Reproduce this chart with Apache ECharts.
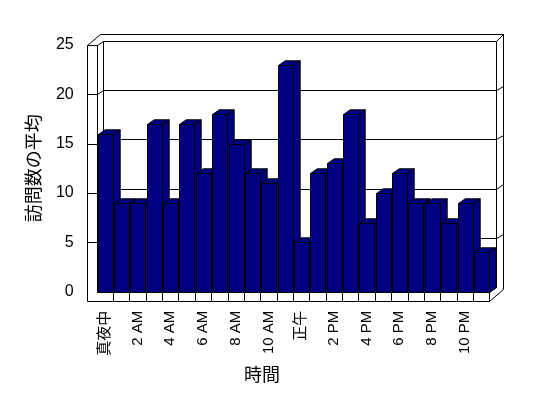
<!DOCTYPE html>
<html>
<head>
<meta charset="utf-8">
<script src="https://cdn.jsdelivr.net/npm/echarts@6/dist/echarts.min.js"></script>
<style>
  html, body { margin: 0; padding: 0; background: #fff; }
  #chart { width: 548px; height: 398px; }
</style>
</head>
<body>
<div id="chart"></div>
<script>
// 時間帯ごとの平均訪問数
const categories = [
  '真夜中', '1 AM', '2 AM', '3 AM', '4 AM', '5 AM', '6 AM', '7 AM', '8 AM', '9 AM', '10 AM', '11 AM',
  '正午', '1 PM', '2 PM', '3 PM', '4 PM', '5 PM', '6 PM', '7 PM', '8 PM', '9 PM', '10 PM', '11 PM'
]
const visits = [16, 9, 9, 17, 9, 17, 12, 18, 15, 12, 11, 23, 5, 12, 13, 18, 7, 10, 12, 9, 9, 7, 9, 4]
const yTicks = [5, 10, 15, 20]

const WALL = 10 // 左壁の厚み
const FLOOR = 9 // 床の厚み
const DEPTH = [6.6, -4.3] // 奥行き
const BACK = [7, -7] // 奥の壁の厚み
const BAR_DEPTH = [6.7, -4.7]
const BAR_COLOR = '#000080'

const px = v => Math.round(v) + 0.5

function line(x1, y1, x2, y2) {
  return {
    type: 'line',
    shape: { x1: px(x1), y1: px(y1), x2: px(x2), y2: px(y2) },
    style: { stroke: '#000', lineWidth: 1 }
  }
}

// 壁・床・目盛線
function renderFrame(params, api) {
  const cs = params.coordSys
  const L = cs.x
  const R = cs.x + cs.width
  const T = cs.y
  const B = cs.y + cs.height
  const dx = DEPTH[0]
  const dy = DEPTH[1]
  const ex = BACK[0]
  const ey = BACK[1]
  const c = []
  // 左壁 正面
  c.push(line(L - WALL, T, L - WALL, B + FLOOR))
  c.push(line(L - WALL, T, L, T))
  c.push(line(L, T, L, B))
  // 上端
  c.push(line(L - WALL, T, L - WALL + dx + ex, T + dy + ey))
  c.push(line(L - WALL + dx + ex, T + dy + ey, R + dx + ex, T + dy + ey))
  c.push(line(L, T, L + dx, T + dy))
  c.push(line(L + dx, T + dy, R + dx, T + dy))
  c.push(line(L + dx, T + dy, L + dx, B + dy))
  // 右端
  c.push(line(R + dx, T + dy, R + dx + ex, T + dy + ey))
  c.push(line(R + dx, T + dy, R + dx, B + dy))
  c.push(line(R + dx + ex, T + dy + ey, R + dx + ex, B + FLOOR + dy + ey))
  // 床
  c.push(line(L + dx, B + dy, R + dx, B + dy))
  c.push(line(L, B, R, B))
  c.push(line(L - WALL, B + FLOOR, R, B + FLOOR))
  c.push(line(R, B, R, B + FLOOR))
  c.push(line(R, B, R + dx, B + dy))
  c.push(line(R, B + FLOOR, R + dx + ex, B + FLOOR + dy + ey))
  // 目盛線
  yTicks.forEach(t => {
    const y = api.coord([0, t])[1]
    c.push(line(L - WALL, y, L, y))
    c.push(line(L, y, L + dx, y + dy))
    c.push(line(L + dx, y + dy, R + dx, y + dy))
    c.push(line(R + dx, y + dy, R + dx + ex, y + dy - 4.5))
  })
  // 床の区切り
  const bw = api.size([1, 0])[0]
  for (let k = 1; k < categories.length; k++) {
    c.push(line(L + k * bw, B, L + k * bw, B + FLOOR))
  }
  return { type: 'group', children: c }
}

// 3D 風の棒
function renderBar(params, api) {
  const top = api.coord([api.value(0), api.value(1)])
  const base = api.coord([api.value(0), 0])
  const bw = api.size([1, 0])[0]
  const xl = Math.round(top[0] - bw * 0.44) + 0.5
  const xr = Math.round(xl + bw * 0.86) + 0.5
  const yt = Math.round(top[1]) + 0.5
  const yb = Math.round(base[1]) + 0.5
  const [bx, by] = BAR_DEPTH
  const style = { fill: BAR_COLOR, stroke: '#000', lineWidth: 1 }
  return {
    type: 'group',
    children: [
      {
        type: 'polygon',
        shape: { points: [[xr, yt], [xr + bx, yt + by], [xr + bx, yb + by], [xr, yb]] },
        style
      },
      {
        type: 'polygon',
        shape: { points: [[xl, yt], [xr, yt], [xr + bx, yt + by], [xl + bx, yt + by]] },
        style
      },
      {
        type: 'rect',
        shape: { x: xl, y: yt, width: xr - xl, height: yb - yt },
        style
      }
    ]
  }
}

const chart = echarts.init(document.getElementById('chart'))
chart.setOption({
  backgroundColor: '#fff',
  animation: false,
  title: {
    text: '時間',
    left: 244,
    top: 365,
    padding: 0,
    textStyle: {
      fontFamily: 'Noto Sans CJK JP',
      fontWeight: 'normal',
      fontSize: 18,
      color: '#000'
    }
  },
  grid: {
    left: 96.7,
    right: 58.7,
    top: 45,
    bottom: 106.3
  },
  xAxis: {
    type: 'category',
    data: categories,
    axisLine: { show: false },
    axisTick: { show: false },
    axisLabel: {
      interval: 1,
      rotate: 90,
      margin: 19,
      color: '#000',
      fontSize: 15,
      fontFamily: 'Liberation Sans, Noto Sans CJK JP'
    }
  },
  yAxis: {
    type: 'value',
    min: 0,
    max: 25,
    interval: 5,
    name: '訪問数の平均',
    nameLocation: 'middle',
    nameRotate: 90,
    nameGap: 55,
    nameTextStyle: {
      fontFamily: 'Noto Sans CJK JP',
      fontSize: 18,
      color: '#000'
    },
    axisLine: { show: false },
    axisTick: { show: false },
    splitLine: { show: false },
    axisLabel: {
      margin: 23,
      color: '#000',
      fontSize: 16,
      fontFamily: 'Liberation Sans'
    }
  },
  series: [
    {
      type: 'custom',
      name: 'frame',
      renderItem: renderFrame,
      data: [[0, 0]],
      silent: true,
      z: 1
    },
    {
      type: 'custom',
      name: '訪問数の平均',
      renderItem: renderBar,
      encode: { x: 0, y: 1 },
      data: visits.map((v, i) => [i, v]),
      z: 2
    }
  ]
})
</script>
</body>
</html>
